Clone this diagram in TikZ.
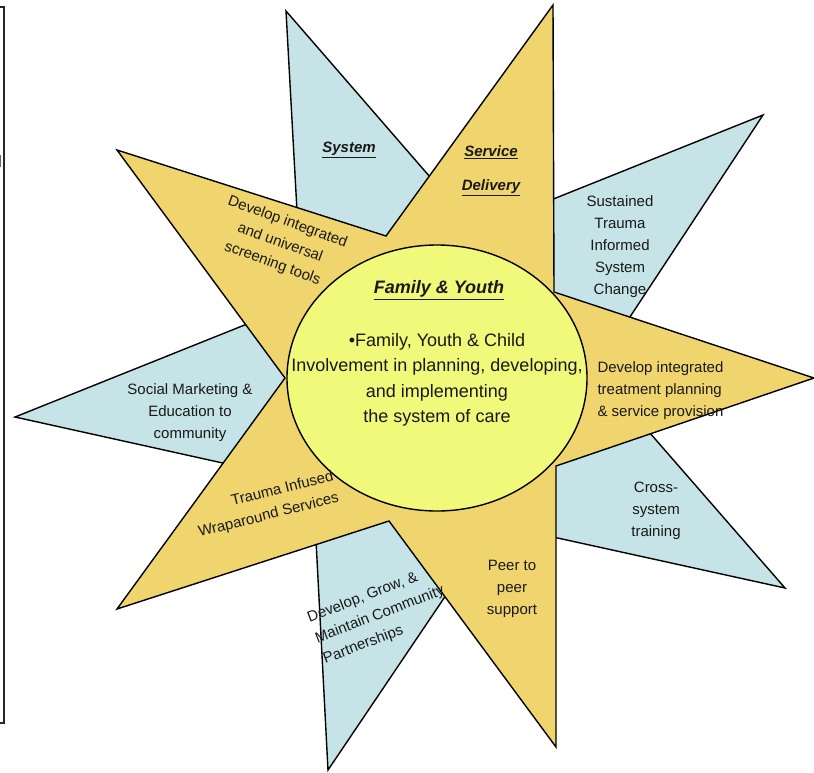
\documentclass[tikz,border=0pt]{standalone}
\usepackage{fontspec}
\setmainfont{Liberation Sans}
\usetikzlibrary{positioning,calc,shapes.geometric}
\definecolor{goldi}{RGB}{240,213,110}
\definecolor{bluei}{RGB}{198,228,232}
\definecolor{yellowi}{RGB}{240,249,122}
\tikzset{
          arm/.style={draw=black,line width=1.4pt,line join=miter},
          texto/.style={font=\fontsize{15}{22}\selectfont,align=center,
            text=black!90},
          title/.style={font=\fontsize{15}{34}\selectfont\bfseries\itshape,
            align=center,text=black!90},
          core/.style={font=\fontsize{18}{25.5}\selectfont,align=center,
            text=black!90}
        }
\newcommand\ArmText[4]{%
          \node[texto,rotate=#3] (#1) at (#2) {#4};
        }
\begin{document}
\begin{tikzpicture}[x=1pt,y=-1pt]
            \useasboundingbox (0,0) rectangle (814,772);

            \draw[line width=1.5pt,black!85] (0,7) -- (4,7) -- (4,723) -- (0,723);
            \fill[black!60] (0,155) rectangle (1.2,167);

            \filldraw[arm,fill=bluei] (286,11) -- (476,230) -- (763,115)
              -- (595,370) -- (785,588) -- (494,524) -- (328,770)
              -- (313,483) -- (15,417) -- (302,302) -- cycle;
            \filldraw[arm,fill=goldi] (553,5) -- (554,292) -- (814,378)
              -- (556,466) -- (556,747) -- (389,521) -- (117,609)
              -- (285,378) -- (117,150) -- (386,236) -- cycle;
            \node[arm,ellipse,fill=yellowi,minimum width=300,
              minimum height=266,inner sep=0pt] (hub) at (437,378) {};

            \node[title,font=\fontsize{18}{22}\selectfont\bfseries\itshape]
              (famyouth) at (439,290) {\underline{Family \& Youth}};
            \node[core] (involve) at (437,380) {•Family, Youth \& Child\\
              Involvement in planning, developing,\\and implementing\\
              the system of care};

            \node[title] (system) at (349,150) {\underline{System}};
            \node[title] (service) at (491,171) {\underline{Service}\\
              \underline{Delivery}};

            \ArmText{screening}{280,243}{-20}{Develop integrated\\
              and universal\\screening tools}
            \ArmText{sustained}{620,247}{0}{Sustained\\Trauma\\Informed\\
              System\\Change}
            \node[texto,align=left,anchor=west] (treatment) at (594,391)
              {Develop integrated\\treatment planning\\\& service provision};
            \ArmText{cross}{656,511}{0}{Cross-\\system\\training}
            \ArmText{peer}{512,589}{0}{Peer to\\peer\\support}
            \node[texto,align=left,rotate=21] (partners) at (380,615)
              {Develop, Grow, \&\\Maintain Community\\Partnerships};
            \ArmText{social}{190,413}{0}{Social Marketing \&\\
              Education to\\community}
            \node[texto,align=right,rotate=14] (wrap) at (266,505)
              {Trauma Infused\\Wraparound Services};

          \end{tikzpicture}
\end{document}
